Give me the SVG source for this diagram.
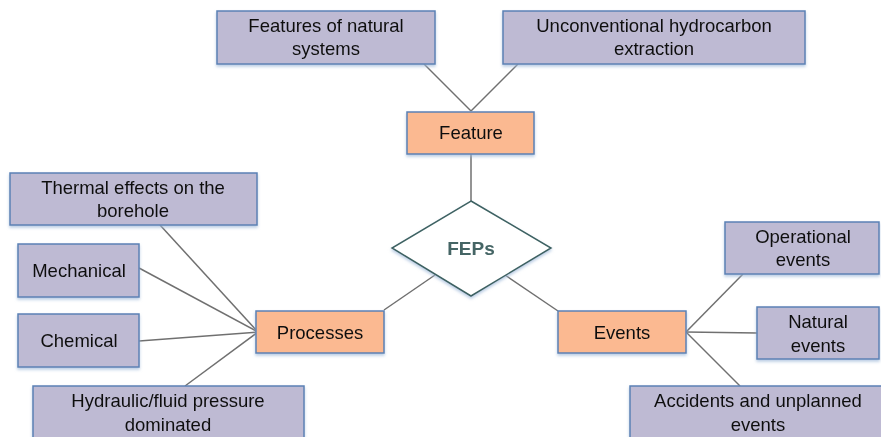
<svg xmlns="http://www.w3.org/2000/svg" width="881" height="437" viewBox="0 0 881 437">
<style>
.leaf{fill:#BEBAD3;stroke:#5B81B5;stroke-width:1.5}
.hub{fill:#FBB991;stroke:#5B81B5;stroke-width:1.5}
.dia{fill:#fff;stroke:#3E6262;stroke-width:1.5}
.c{stroke:#707070;stroke-width:1.5;fill:none}
text{font-family:"Liberation Sans",Arial,sans-serif;font-size:18.5px;fill:#111;text-anchor:middle}
.fep{font-family:"Liberation Sans",Arial,sans-serif;font-size:19px;font-weight:bold;fill:#456565}
</style>
<defs>
<filter id="sh" x="-10%" y="-10%" width="120%" height="140%">
<feDropShadow dx="0" dy="2" stdDeviation="1.5" flood-color="#9DB7D8" flood-opacity="0.7"/>
</filter>
</defs>
<rect width="881" height="437" fill="#fff"/>
<g id="connectors">
<line class="c" x1="424" y1="64" x2="471" y2="111"/>
<line class="c" x1="518" y1="64" x2="471" y2="111"/>
<line class="c" x1="471" y1="154" x2="471" y2="201"/>
<line class="c" x1="435" y1="275" x2="384" y2="310"/>
<line class="c" x1="505" y1="275" x2="558" y2="311"/>
<line class="c" x1="160" y1="225" x2="258" y2="332"/>
<line class="c" x1="139" y1="268" x2="258" y2="332"/>
<line class="c" x1="139" y1="341" x2="258" y2="332"/>
<line class="c" x1="185" y1="386" x2="258" y2="332"/>
<line class="c" x1="686" y1="332" x2="743" y2="274"/>
<line class="c" x1="686" y1="332" x2="757" y2="333"/>
<line class="c" x1="686" y1="332" x2="740" y2="386"/>
</g>
<g id="n-natural-systems" filter="url(#sh)">
<rect class="leaf" x="217" y="11" width="218" height="53"/>
<text x="326" y="32">Features of natural</text>
<text x="326" y="55">systems</text>
</g>
<g id="n-unconventional" filter="url(#sh)">
<rect class="leaf" x="503" y="11" width="302" height="53"/>
<text x="654" y="32">Unconventional hydrocarbon</text>
<text x="654" y="55">extraction</text>
</g>
<g id="n-feature" filter="url(#sh)">
<rect class="hub" x="407" y="112" width="127" height="42"/>
<text x="471" y="139">Feature</text>
</g>
<g id="n-feps" filter="url(#sh)">
<polygon class="dia" points="471,201 551,248 471,296 392,248"/>
<text class="fep" x="471" y="255">FEPs</text>
</g>
<g id="n-processes" filter="url(#sh)">
<rect class="hub" x="256" y="311" width="128" height="42"/>
<text x="320" y="339">Processes</text>
</g>
<g id="n-events" filter="url(#sh)">
<rect class="hub" x="558" y="311" width="128" height="42"/>
<text x="622" y="339">Events</text>
</g>
<g id="n-thermal" filter="url(#sh)">
<rect class="leaf" x="10" y="173" width="247" height="52"/>
<text x="133" y="194">Thermal effects on the</text>
<text x="133" y="217">borehole</text>
</g>
<g id="n-mechanical" filter="url(#sh)">
<rect class="leaf" x="18" y="244" width="121" height="53"/>
<text x="79" y="277">Mechanical</text>
</g>
<g id="n-chemical" filter="url(#sh)">
<rect class="leaf" x="18" y="314" width="121" height="53"/>
<text x="79" y="347">Chemical</text>
</g>
<g id="n-hydraulic" filter="url(#sh)">
<rect class="leaf" x="33" y="386" width="271" height="60"/>
<text x="168" y="407">Hydraulic/fluid pressure</text>
<text x="168" y="431">dominated</text>
</g>
<g id="n-operational" filter="url(#sh)">
<rect class="leaf" x="725" y="222" width="154" height="52"/>
<text x="803" y="243">Operational</text>
<text x="803" y="266">events</text>
</g>
<g id="n-natural-events" filter="url(#sh)">
<rect class="leaf" x="757" y="307" width="122" height="52"/>
<text x="818" y="328">Natural</text>
<text x="818" y="352">events</text>
</g>
<g id="n-accidents" filter="url(#sh)">
<rect class="leaf" x="630" y="386" width="260" height="60"/>
<text x="758" y="407">Accidents and unplanned</text>
<text x="758" y="431">events</text>
</g>
</svg>
